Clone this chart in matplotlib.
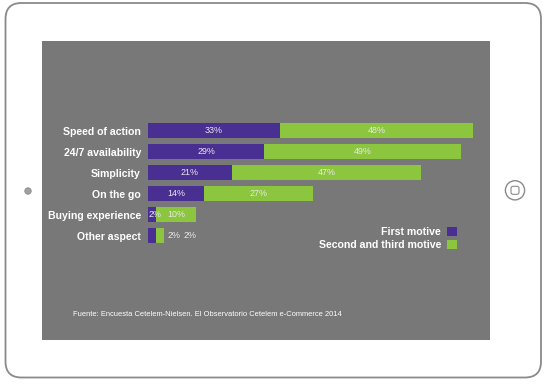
import matplotlib
matplotlib.use("Agg")
import matplotlib.pyplot as plt
from matplotlib.patches import FancyBboxPatch, Rectangle, Circle
import numpy as np

plt.rcParams['font.family'] = ['Liberation Sans', 'DejaVu Sans']

# ---DATA---#
categories = ['Speed of action', '24/7 availability', 'Simplicity',
              'On the go', 'Buying experience', 'Other aspect']
first_motive = [33, 29, 21, 14, 2, 2]
second_third = [48, 49, 47, 27, 10, 2]
series_names = ['First motive', 'Second and third motive']
source = 'Fuente: Encuesta Cetelem-Nielsen. El Observatorio Cetelem e-Commerce 2014'

purple = '#4a2f92'
green = '#8cc63f'
screen = '#787878'

W, H = 550, 386
fig = plt.figure(figsize=(W / 100, H / 100), dpi=100)
fig.patch.set_facecolor('white')

# ---TABLET FRAME (pixel coords)---#
bg = fig.add_axes([0, 0, 1, 1])
bg.set_xlim(0, W)
bg.set_ylim(H, 0)
bg.axis('off')
bg.add_patch(FancyBboxPatch((5.5, 3), 535.5, 374.5, boxstyle='round,pad=0,rounding_size=16',
                            facecolor='white', edgecolor='#8a8a8a', lw=1.3))
bg.add_patch(Rectangle((42, 41), 448, 299, facecolor=screen, edgecolor='none'))
bg.add_patch(Circle((28, 191), 3.2, facecolor='#a0a0a0', edgecolor='#8a8a8a', lw=0.6))
bg.add_patch(Circle((515, 190.3), 9.6, facecolor='white', edgecolor='#8a8a8a', lw=1.0))
bg.add_patch(FancyBboxPatch((511, 186.3), 8, 8, boxstyle='round,pad=0,rounding_size=2',
                            facecolor='white', edgecolor='#8a8a8a', lw=0.8))
bg.text(73, 314, source, fontsize=5.4, color='white', va='center', ha='left')

# ---BAR CHART---#
x0, px_per = 147.7, 4.02
top, step = 130.7, 21.0
ax_left, ax_right = x0, 490
ax_top, ax_bot = top - step / 2, top + step * 5.5
ax = fig.add_axes([ax_left / W, 1 - ax_bot / H, (ax_right - ax_left) / W, (ax_bot - ax_top) / H])
ax.set_facecolor('none')
ax.set_xlim(0, (ax_right - ax_left) / px_per)
ax.set_ylim(len(categories) - 0.5, -0.5)

y = np.arange(len(categories))
b1 = ax.barh(y, first_motive, height=0.71, color=purple)
b2 = ax.barh(y, second_third, left=first_motive, height=0.71, color=green)

vcol = '#e8e8e8'
vfs = 6.4
for i in range(len(categories)):
    f, s = first_motive[i], second_third[i]
    if f + s < 6:
        # labels outside the bar
        ax.annotate('%d%%' % f, (f + s, i), xytext=(2.5, 0), textcoords='offset points',
                    ha='left', va='center', fontsize=vfs, color=vcol)
        ax.annotate('%d%%' % s, (f + s, i), xytext=(14.5, 0), textcoords='offset points',
                    ha='left', va='center', fontsize=vfs, color=vcol)
        continue
    if f < 4:
        ax.annotate('%d%%' % f, (0, i), xytext=(0.5, 0), textcoords='offset points',
                    ha='left', va='center', fontsize=vfs, color=vcol)
    else:
        ax.text(f / 2, i, '%d%%' % f, ha='center', va='center', fontsize=vfs, color=vcol)
    ax.text(f + s / 2, i, '%d%%' % s, ha='center', va='center', fontsize=vfs, color=vcol)

ax.set_yticks(y)
ax.set_yticklabels(categories, fontsize=7.6, fontweight='bold', color='white')
ax.tick_params(axis='y', length=0, pad=4.8)
ax.set_xticks([])
for sp in ax.spines.values():
    sp.set_visible(False)

leg = ax.legend([b1, b2], series_names, markerfirst=False, frameon=False,
                loc='center right', bbox_to_anchor=(457 / W, 1 - 238.5 / H),
                bbox_transform=fig.transFigure, borderpad=0, borderaxespad=0,
                handlelength=0.95, handleheight=0.9, handletextpad=0.55,
                labelspacing=0.3, prop={'size': 7.6, 'weight': 'bold'})
for t in leg.get_texts():
    t.set_color('white')

fig.savefig('out.png', dpi=100, facecolor='white')
